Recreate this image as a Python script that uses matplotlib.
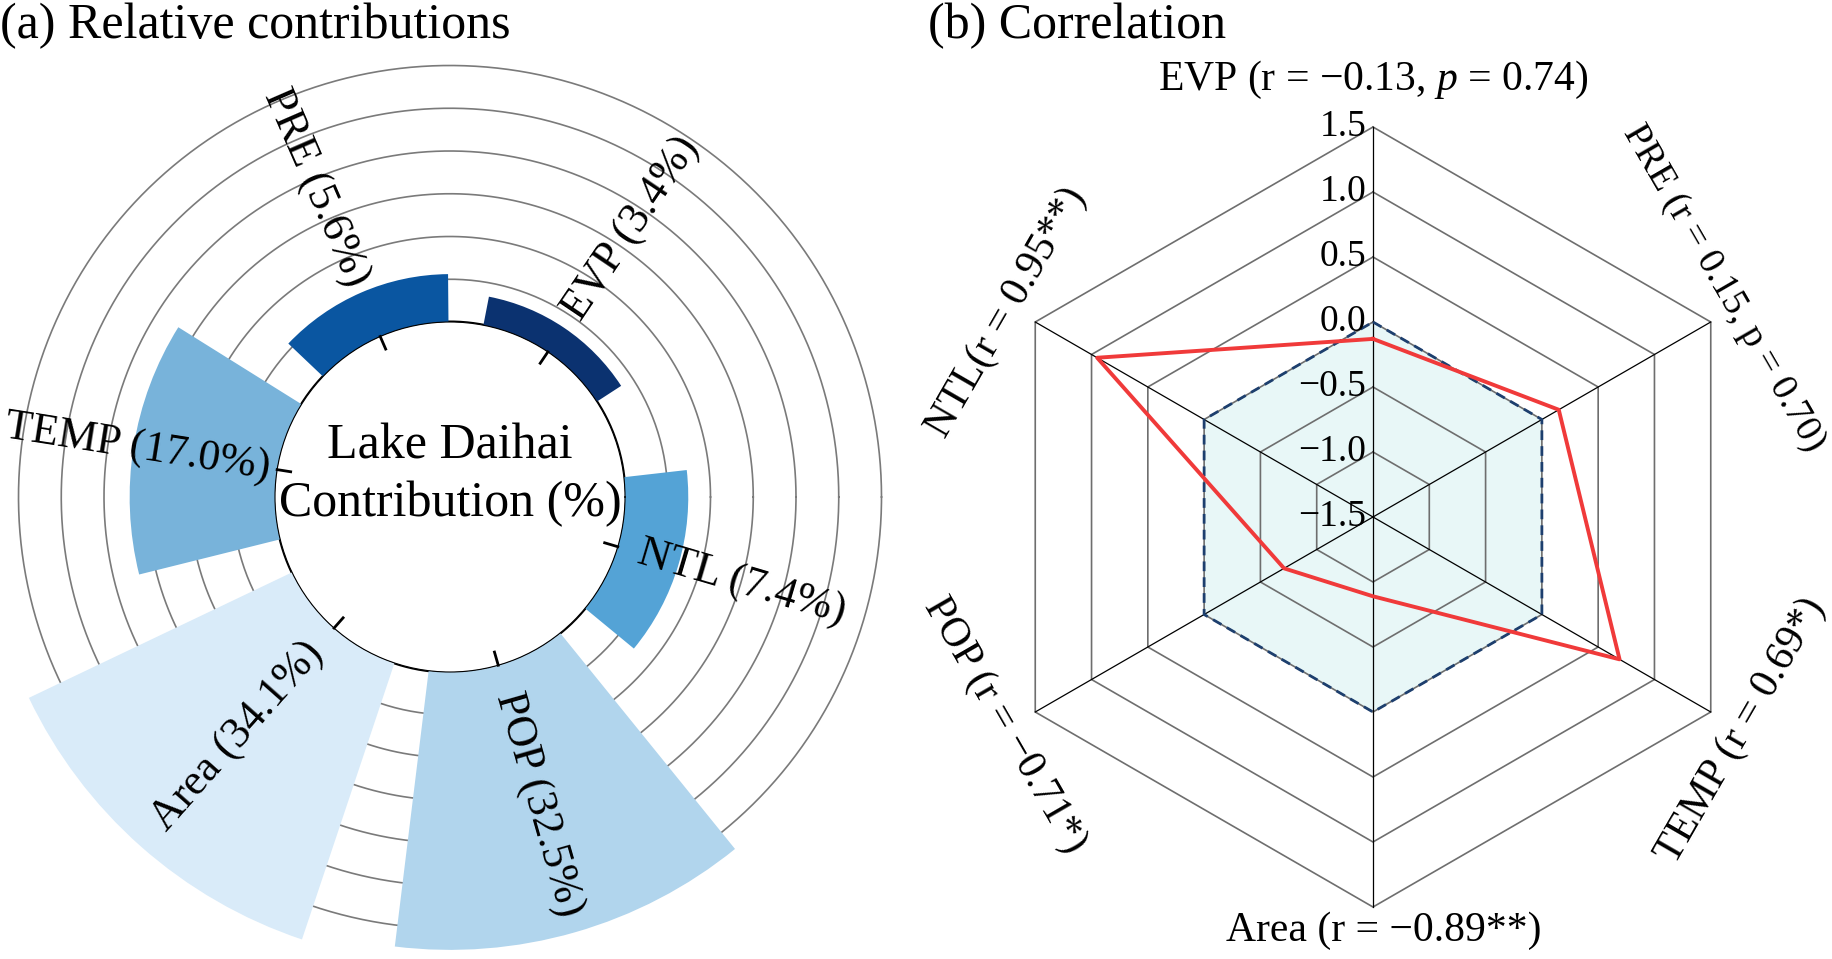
import matplotlib.pyplot as plt
import numpy as np

plt.rcParams['font.family'] = ['Liberation Serif', 'DejaVu Serif']
plt.rcParams['mathtext.fontset'] = 'custom'
plt.rcParams['mathtext.rm'] = 'Liberation Serif'
plt.rcParams['mathtext.it'] = 'Liberation Serif:italic'

# (a) relative contributions, counterclockwise from upper right
factors = ['EVP', 'PRE', 'TEMP', 'Area', 'POP', 'NTL']
contribution = [3.4, 5.6, 17.0, 34.1, 32.5, 7.4]
bar_colors = ['#0b3270', '#0a56a1', '#78b3da', '#d9ebf9', '#b1d5ed', '#54a3d6']
ring_values = [5, 10, 15, 20, 25, 30]

# (b) correlation, clockwise from top
radar_factors = ['EVP', 'PRE', 'TEMP', 'Area', 'POP', 'NTL']
r_values = [-0.13, 0.15, 0.69, -0.89, -0.71, 0.95]
radar_labels = ['EVP (r = \u22120.13, $p$ = 0.74)',
                'PRE (r = 0.15, p = 0.70)',
                'TEMP (r = 0.69*)',
                'Area (r = \u22120.89**)',
                'POP (r = \u22120.71*)',
                'NTL(r = 0.95**)']
radar_ticks = [-1.5, -1.0, -0.5, 0.0, 0.5, 1.0, 1.5]
reference_level = 0.0

W, H = 1832, 959
fig = plt.figure(figsize=(W / 100, H / 100), dpi=100)

# ---------- (a) ----------
px_per_unit = 8.55      # pixels per percent
hole_px = 175
cx, cy = 450, 959 - 497
rmax = 36
rad_px = (rmax + hole_px / px_per_unit) * px_per_unit
ax = fig.add_axes([(cx - rad_px) / W, (cy - rad_px) / H, 2 * rad_px / W, 2 * rad_px / H],
                  projection='polar')
ax.set_ylim(0, rmax)
ax.set_rorigin(-hole_px / px_per_unit)
ax.grid(False)
ax.set_xticks([])
ax.set_yticks([])
for s in ax.spines.values():
    s.set_visible(False)

theta_deg = 56 + 57.5 * np.arange(len(factors))
theta = np.deg2rad(theta_deg)
tt = np.linspace(0, 2 * np.pi, 500)
for v in ring_values:
    ax.plot(tt, np.full_like(tt, v), color='#7a7a7a', lw=1.2, zorder=1)
ax.plot(tt, np.zeros_like(tt), color='black', lw=2.2, zorder=1.5)
ax.bar(theta, contribution, width=np.deg2rad(46), bottom=0, color=bar_colors,
       align='center', zorder=2)
for th in theta:
    ax.plot([th, th], [0, -1.6], color='black', lw=2, clip_on=False, zorder=3)

label_px = [324, 337, 316, 320, 320, 304]
for name, val, th, lp in zip(factors, contribution, theta_deg, label_px):
    rot = th - 180 if 90 < th < 270 else (th if th <= 90 else th - 360)
    ax.text(np.deg2rad(th), lp / px_per_unit - hole_px / px_per_unit,
            f'{name} ({val:.1f}%)', rotation=rot, rotation_mode='anchor',
            ha='center', va='center', fontsize=31.5, zorder=5)

ax.text(0.5, 0.5 + 22 / (2 * rad_px), 'Lake Daihai\nContribution (%)',
        transform=ax.transAxes, ha='center', va='center', fontsize=36,
        linespacing=1.32, zorder=5)

# ---------- (b) ----------
unit = 130.0            # pixels per 1.0 of r
rcx, rcy = 1373, 517
ax2 = fig.add_axes([916 / W, 0, (W - 916) / W, 1])
ax2.set_xlim((916 - rcx) / unit, (W - rcx) / unit)
ax2.set_ylim((rcy - H) / unit, rcy / unit)
ax2.axis('off')
ax2.patch.set_alpha(0)

ang = np.deg2rad(90 - 60 * np.arange(len(radar_factors)))
ang_c = np.append(ang, ang[0])
base = radar_ticks[0]

ref = np.full(len(ang_c), reference_level - base)
ax2.fill(ref * np.cos(ang_c), ref * np.sin(ang_c), color='#e8f7f7', zorder=0.5, lw=0)
for v in radar_ticks[1:]:
    rr = v - base
    ax2.plot(rr * np.cos(ang_c), rr * np.sin(ang_c), color='#6e6e6e', lw=1.2, zorder=1)
rtop = radar_ticks[-1] - base
for a in ang:
    ax2.plot([0, rtop * np.cos(a)], [0, rtop * np.sin(a)], color='black', lw=0.9, zorder=1)
ax2.plot(ref * np.cos(ang_c), ref * np.sin(ang_c), color='#1d3f6e', lw=2.0,
         linestyle=(0, (3.5, 2.2)), zorder=2)

vals = np.array(r_values + [r_values[0]]) - base
ax2.plot(vals * np.cos(ang_c), vals * np.sin(ang_c), color='#f03a3a', lw=2.8, zorder=4)

for v in radar_ticks:
    txt = f'{v:.1f}'.replace('-', '\u2212')
    ax2.text(-0.05, v - base, txt, ha='right', va='center', fontsize=27, zorder=5)

# label centres in r units relative to the radar centre
label_xy = [(0.0, 3.36), (2.70, 1.76), (2.83, -1.64), (0.08, -3.18), (-2.83, -1.6), (-2.82, 1.57)]
label_size = [30, 27.5, 30, 30, 30, 30]
for lab, a, (lx, ly), fs in zip(radar_labels, ang, label_xy, label_size):
    d = np.rad2deg(a)
    d = (d + 180) % 360 - 180
    rot = d - 90 if d >= 0 else d + 90
    ax2.text(lx, ly, lab, rotation=rot, rotation_mode='anchor',
             ha='center', va='center', fontsize=fs)

fig.text(0 / W, 1 - 26 / H, '(a) Relative contributions', ha='left', va='center', fontsize=36)
fig.text(928 / W, 1 - 26 / H, '(b) Correlation', ha='left', va='center', fontsize=36)

fig.savefig('out.png', dpi=100)
